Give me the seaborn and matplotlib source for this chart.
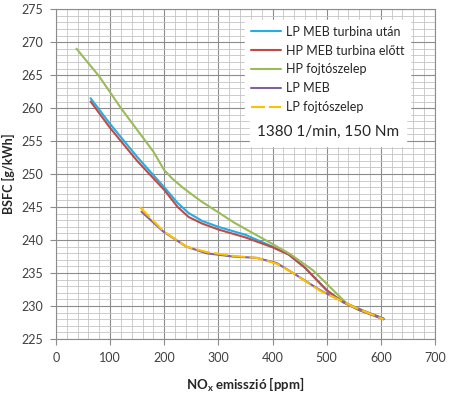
import numpy as np
import pandas as pd
import matplotlib
matplotlib.use("Agg")
import matplotlib.pyplot as plt
from matplotlib.ticker import MultipleLocator
import seaborn as sns

# adatok
nox_lp_meb_utan = [64, 100, 150, 200, 225, 245, 270, 300, 350, 400, 430, 460, 500, 530, 560, 605]
bsfc_lp_meb_utan = [261.5, 257.6, 252.6, 248.0, 245.6, 244.1, 242.9, 242.0, 240.8, 239.0, 237.8, 235.8, 232.4, 230.6, 229.4, 228.0]

nox_hp_meb_elott = [64, 100, 150, 200, 225, 245, 270, 300, 350, 400, 430, 460, 500, 530, 560, 605]
bsfc_hp_meb_elott = [261.0, 257.0, 252.0, 247.6, 245.0, 243.5, 242.5, 241.6, 240.4, 238.9, 237.8, 235.8, 232.4, 230.6, 229.4, 228.0]

nox_hp_fojto = [38, 80, 120, 180, 200, 215, 235, 266, 330, 400, 432, 475, 512, 537, 570, 605]
bsfc_hp_fojto = [269.0, 264.8, 260.0, 253.4, 250.6, 249.3, 247.9, 246.0, 242.6, 239.4, 237.9, 235.4, 232.4, 230.4, 229.2, 228.1]

nox_lp_meb = [158, 198, 241, 278, 327, 371, 408, 438, 488, 512, 549, 605]
bsfc_lp_meb = [244.3, 241.3, 239.0, 238.0, 237.5, 237.3, 236.5, 235.0, 232.4, 231.4, 229.9, 228.1]

nox_lp_fojto = [155, 198, 241, 278, 327, 371, 408, 438, 488, 512, 549, 605]
bsfc_lp_fojto = [245.0, 241.4, 239.0, 238.2, 237.6, 237.3, 236.4, 235.0, 232.3, 231.4, 229.9, 228.0]

series = [
    ("LP MEB turbina után", nox_lp_meb_utan, bsfc_lp_meb_utan, "#22ade6", "-"),
    ("HP MEB turbina előtt", nox_hp_meb_elott, bsfc_hp_meb_elott, "#be4b48", "-"),
    ("HP fojtószelep", nox_hp_fojto, bsfc_hp_fojto, "#9bbb59", "-"),
    ("LP MEB", nox_lp_meb, bsfc_lp_meb, "#8064a2", "-"),
    ("LP fojtószelep", nox_lp_fojto, bsfc_lp_fojto, "#ffc000", (0, (6.7, 1.9))),
]

sns.set_style("white")
plt.rcParams['font.family'] = ['Lato', 'DejaVu Sans']

fig = plt.figure(figsize=(4.51, 3.97), dpi=100)
ax = fig.add_axes([0.124, 0.146, 0.8405, 0.831])

for name, x, y, col, ls in series:
    df = pd.DataFrame({"x": x, "y": y})
    sns.lineplot(data=df, x="x", y="y", ax=ax, color=col, lw=1.5, label=name,
                 linestyle=ls, sort=False)

ax.set_xlim(0, 700)
ax.set_ylim(225, 275)
ax.xaxis.set_major_locator(MultipleLocator(100))
ax.xaxis.set_minor_locator(MultipleLocator(20))
ax.yaxis.set_major_locator(MultipleLocator(5))
ax.yaxis.set_minor_locator(MultipleLocator(1))
ax.grid(which="major", color="#8c8c8c", lw=0.8)
ax.grid(which="minor", color="#c4c4c4", lw=0.6)
ax.set_axisbelow(True)
for s in ax.spines.values():
    s.set_color("#8c8c8c")
    s.set_linewidth(0.8)
ax.tick_params(which="major", direction="out", length=4, color="#8c8c8c",
               labelsize=9, labelcolor="#404040", left=True, bottom=True, pad=5)
ax.tick_params(which="minor", length=0)

ax.set_xlabel("NO$_\\mathregular{x}$ emisszió [ppm]", fontsize=9.5, fontweight="bold", labelpad=9)
ax.set_ylabel("BSFC [g/kWh]", fontsize=9, fontweight="bold", labelpad=5)

leg = ax.legend(loc="upper left", bbox_to_anchor=(0.499, 0.967), borderaxespad=0,
                frameon=True, fontsize=9, handlelength=2.4, handletextpad=0.45,
                labelspacing=0.55, borderpad=0.45,
                fancybox=False, edgecolor="white", framealpha=1)

ax.text(0.530, 0.628, "1380 1/min, 150 Nm", transform=ax.transAxes, fontsize=11,
        ha="left", va="center",
        bbox=dict(boxstyle="square,pad=0.45", fc="white", ec="white"))

fig.savefig("out.png", dpi=100)
